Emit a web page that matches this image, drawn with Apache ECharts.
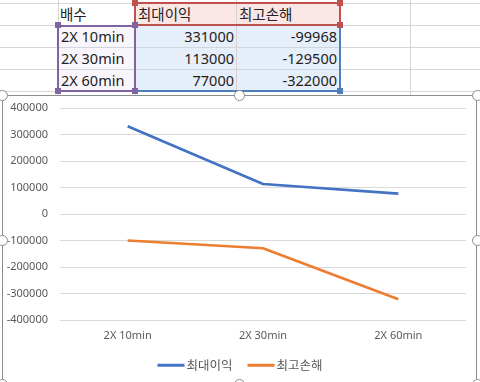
<!DOCTYPE html>
<html>
<head>
<meta charset="utf-8">
<script src="https://cdn.jsdelivr.net/npm/echarts@6/dist/echarts.min.js"></script>
<style>
  html, body { margin:0; padding:0; width:480px; height:382px; overflow:hidden; background:#fff; }
  body { position:relative; font-family:'Noto Sans','Noto Sans CJK KR',sans-serif; }
  .abs { position:absolute; box-sizing:border-box; }
  .cell { position:absolute; box-sizing:border-box; font-size:14.5px; color:#222; line-height:22px; white-space:nowrap; overflow:hidden; }
  .hl { position:absolute; height:1px; background:#d6d6d6; }
  .vl { position:absolute; width:1px; background:#d6d6d6; }
  .hdl { position:absolute; width:6px; height:6px; box-sizing:border-box; }
  .circ { position:absolute; width:11px; height:11px; border-radius:50%; border:1.5px solid #8c8c8c; background:#fff; box-sizing:border-box; }
</style>
</head>
<body>
<div id="sheet"></div>
<div id="chartFrame" class="abs" style="left:2px;top:95px;width:475px;height:300px;border:1.5px solid #8c8c8c;background:#fff;"></div>
<div id="chart" class="abs" style="left:0;top:95px;width:480px;height:287px;"></div>
<div id="handles"></div>
<script>
const headerLabel = '배수';
const categories = ['2X 10min', '2X 30min', '2X 60min'];
const seriesNames = ['최대이익', '최고손해'];
const maxProfit = [331000, 113000, 77000];
const maxLoss = [-99968, -129500, -322000];
const yTicks = [-400000, -300000, -200000, -100000, 0, 100000, 200000, 300000, 400000];

// ---- spreadsheet background ----
const sheet = document.getElementById('sheet');
const rowY = [3, 25, 47, 69, 91];
const colX = [58, 135, 236, 340, 410];
let html = '';
rowY.forEach(y => { html += `<div class="hl" style="left:0;top:${y}px;width:480px;"></div>`; });
colX.forEach(x => { html += `<div class="vl" style="left:${x}px;top:0;height:95px;"></div>`; });
// fills
html += `<div class="abs" style="left:136px;top:4px;width:204px;height:21px;background:#fbe6e6;"></div>`;
html += `<div class="abs" style="left:136px;top:26px;width:204px;height:65px;background:#e6eef9;"></div>`;
html += `<div class="abs" style="left:59px;top:26px;width:76px;height:65px;background:#f8f6fb;"></div>`;
// redraw inner gridlines over fills
[47, 69].forEach(y => { html += `<div class="hl" style="left:58px;top:${y}px;width:282px;background:#d0d5dd;"></div>`; });
html += `<div class="vl" style="left:236px;top:3px;height:88px;background:#d6d0d0;"></div>`;
// text
html += `<div class="cell" style="left:60px;top:3px;width:74px;">${headerLabel}</div>`;
html += `<div class="cell" style="left:138px;top:3px;width:96px;">${seriesNames[0]}</div>`;
html += `<div class="cell" style="left:239px;top:3px;width:99px;">${seriesNames[1]}</div>`;
categories.forEach((c, i) => {
  const y = rowY[i + 1];
  html += `<div class="cell" style="left:61px;top:${y}px;width:74px;">${c}</div>`;
  html += `<div class="cell" style="left:136px;top:${y}px;width:98px;text-align:right;">${maxProfit[i]}</div>`;
  html += `<div class="cell" style="left:237px;top:${y}px;width:100px;text-align:right;">${maxLoss[i]}</div>`;
});
// range borders
html += `<div class="abs" style="left:134px;top:2px;width:207px;height:24px;border:2px solid #c0504d;border-bottom:none;"></div>`;
html += `<div class="abs" style="left:135px;top:24px;width:206px;height:2px;background:#c0504d;"></div>`;
html += `<div class="abs" style="left:339px;top:25px;width:2px;height:67px;background:#4f7ebd;"></div>`;
html += `<div class="abs" style="left:135px;top:90px;width:206px;height:2px;background:#4f7ebd;"></div>`;
html += `<div class="abs" style="left:57px;top:25px;width:79px;height:67px;border:2px solid #8064a2;"></div>`;
// corner handles
const h = (x, y, c) => `<div class="hdl" style="left:${x-3}px;top:${y-3}px;background:${c};"></div>`;
html += h(135, 3, '#c0504d') + h(340, 3, '#c0504d') + h(340, 25, '#c0504d');
html += h(58, 25, '#8064a2') + h(135, 25, '#8064a2') + h(58, 91, '#8064a2') + h(135, 91, '#8064a2');
html += h(340, 91, '#4f7ebd');
sheet.innerHTML = html;

// ---- chart frame handles ----
const circ = (x, y) => `<div class="circ" style="left:${x-5.5}px;top:${y-5.5}px;"></div>`;
document.getElementById('handles').innerHTML =
  circ(2, 95) + circ(239, 95) + circ(477, 95) + circ(2, 240) + circ(477, 240) + circ(2, 384) + circ(239, 384) + circ(477, 384);

// ---- chart ----
const chart = echarts.init(document.getElementById('chart'), null, { renderer: 'canvas' });
const txt = '#595959';
const ff = "'Segoe UI','Noto Sans','Noto Sans CJK KR',sans-serif";
chart.setOption({
  animation: false,
  backgroundColor: 'transparent',
  textStyle: { fontFamily: ff },
  grid: { left: 60, right: 14, top: 13, height: 212 },
  legend: {
    data: seriesNames,
    left: 'center',
    top: 259,
    icon: 'rect',
    itemWidth: 27,
    itemHeight: 3,
    itemGap: 15,
    textStyle: { color: txt, fontSize: 12.5, fontFamily: "'Noto Sans CJK KR',sans-serif", padding: [0, 0, 0, -3] }
  },
  xAxis: {
    type: 'category',
    data: categories,
    boundaryGap: true,
    axisLine: { show: false },
    axisTick: { show: false },
    axisLabel: { color: txt, fontSize: 11, margin: 10 }
  },
  yAxis: {
    type: 'value',
    min: yTicks[0],
    max: yTicks[yTicks.length - 1],
    interval: yTicks[1] - yTicks[0],
    axisLine: { show: false },
    axisTick: { show: false },
    axisLabel: { color: txt, fontSize: 11, margin: 12, formatter: v => String(v) },
    splitLine: { lineStyle: { color: '#d9d9d9', width: 1 } }
  },
  series: [
    { name: seriesNames[0], type: 'line', data: maxProfit, symbol: 'none', lineStyle: { color: '#4472c4', width: 2.6 }, itemStyle: { color: '#4472c4' } },
    { name: seriesNames[1], type: 'line', data: maxLoss, symbol: 'none', lineStyle: { color: '#ed7d31', width: 2.6 }, itemStyle: { color: '#ed7d31' } }
  ]
});
</script>
</body>
</html>
